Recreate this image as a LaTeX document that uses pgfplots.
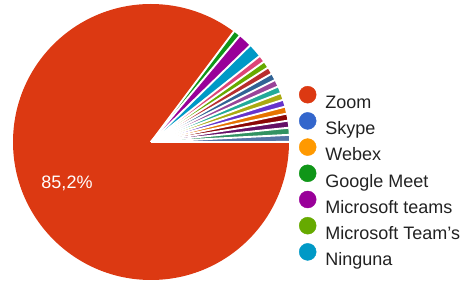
\documentclass[border=0pt]{standalone}
\usepackage{pgfplots}
\pgfplotsset{compat=1.18}
\usepackage{pgfplotstable}
\usepackage{fontspec}
\setmainfont{Liberation Sans}
\definecolor{cZoom}{HTML}{DC3912}
\definecolor{cSkype}{HTML}{3366CC}
\definecolor{cWebex}{HTML}{FF9900}
\definecolor{cGM}{HTML}{109618}
\definecolor{cMST}{HTML}{990099}
\definecolor{cMSTs}{HTML}{66AA00}
\definecolor{cNin}{HTML}{0099C6}
\definecolor{cPink}{HTML}{DD4477}
\definecolor{cLGreen}{HTML}{66AA00}
\definecolor{cRed}{HTML}{B82E2E}
\definecolor{cDBlue}{HTML}{316395}
\definecolor{cMauve}{HTML}{994499}
\definecolor{cTeal}{HTML}{22AA99}
\definecolor{cOlive}{HTML}{AAAA11}
\definecolor{cViolet}{HTML}{6633CC}
\definecolor{cOrange}{HTML}{E67300}
\definecolor{cDRed}{HTML}{8B0707}
\definecolor{cDPurple}{HTML}{651067}
\definecolor{cSea}{HTML}{329262}
\definecolor{cSteel}{HTML}{5574A6}
\definecolor{textgray}{HTML}{222222}
\newcommand\chartfont{\fontsize{18bp}{21bp}\selectfont}

\pgfplotstableread{
name value col
Zoom 104 cZoom
GoogleMeet 1 cGM
MicrosoftTeams 2 cMST
Ninguna 2 cNin
s5 1 cPink
MicrosoftTeamS 1 cLGreen
s7 1 cRed
s8 1 cDBlue
s9 1 cMauve
s10 1 cTeal
s11 1 cOlive
s12 1 cViolet
s13 1 cOrange
s14 1 cDRed
s15 1 cDPurple
s16 1 cSea
s17 1 cSteel
}\piedata

\pgfplotsset{piecirc/.style={legend image code/.code={\fill[##1] (8.5bp,6.45bp) circle[radius=8.5bp];}}}

\begin{document}
\begin{tikzpicture}
\begin{axis}[
  hide axis, scale only axis,
  width=471bp, height=284bp,
  xmin=-151, xmax=320, ymin=-142, ymax=142,
  clip=false,
  legend cell align=left,
  legend style={draw=none, fill=none, at={(axis cs:148,56.0)}, anchor=north west,
    inner sep=0pt, outer sep=0pt, row sep=0pt, column sep=9bp,
    nodes={inner sep=0pt, text height=18.5bp, text depth=3.6bp, font=\chartfont, text=textgray}},
]
\pgfplotstablegetrowsof{\piedata}
\pgfmathtruncatemacro\nrows{\pgfplotsretval-1}
\def\total{0}
\pgfplotsforeachungrouped \i in {0,...,\nrows}{%
  \pgfplotstablegetelem{\i}{value}\of\piedata
  \pgfmathsetmacro\total{\total+\pgfplotsretval}%
}
\def\astart{360}
\pgfplotsforeachungrouped \i in {0,...,\nrows}{%
  \pgfplotstablegetelem{\i}{value}\of\piedata
  \pgfmathsetmacro\aend{\astart-\pgfplotsretval/\total*360}%
  \pgfplotstablegetelem{\i}{col}\of\piedata
  \let\slicecol\pgfplotsretval
  \edef\temp{\noexpand\fill[\slicecol] (axis cs:0,0) -- +(\astart:138bp) arc[start angle=\astart, end angle=\aend, radius=138bp] -- cycle;}%
  \temp
  \let\astart\aend
}
\def\astart{360}
\pgfplotsforeachungrouped \i in {0,...,\nrows}{%
  \pgfplotstablegetelem{\i}{value}\of\piedata
  \pgfmathsetmacro\aend{\astart-\pgfplotsretval/\total*360}%
  \edef\temp{\noexpand\draw[white, line width=1.9bp] (axis cs:0,0) -- +(\aend:139bp);}%
  \temp
  \let\astart\aend
}
\node[text=white, font=\chartfont] at (axis cs:-84,-41) {85,2\%};
\addlegendimage{piecirc, cZoom}\addlegendentry{Zoom}
\addlegendimage{piecirc, cSkype}\addlegendentry{Skype}
\addlegendimage{piecirc, cWebex}\addlegendentry{Webex}
\addlegendimage{piecirc, cGM}\addlegendentry{Google Meet}
\addlegendimage{piecirc, cMST}\addlegendentry{Microsoft teams}
\addlegendimage{piecirc, cMSTs}\addlegendentry{Microsoft Team's}
\addlegendimage{piecirc, cNin}\addlegendentry{Ninguna}
\end{axis}
\pgfresetboundingbox
\path[use as bounding box] (current axis.south west) rectangle (current axis.north east);
\end{tikzpicture}
\end{document}
